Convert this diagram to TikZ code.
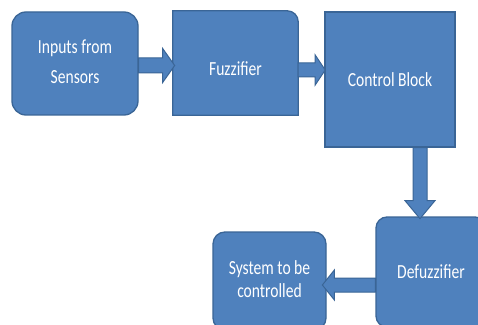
\documentclass[tikz,border=0pt]{standalone}
\usepackage{fontspec}
\setmainfont{Carlito}
\usetikzlibrary{calc}
\definecolor{boxfill}{HTML}{4F81BD}
\definecolor{boxline}{HTML}{3A6596}
\newcommand\blockarr[6]{% start, angle, length, shaft half, head half, head length
  \begin{scope}[shift={(#1)}, rotate=#2]
    \draw[arrowbody] (0,-#4) -- (#3-#6,-#4) -- (#3-#6,-#5) -- (#3,0) -- (#3-#6,#5) -- (#3-#6,#4) -- (0,#4) -- cycle;
  \end{scope}}
\newcommand\lbl[1]{\scalebox{0.78}[1]{#1}}
\begin{document}
\begin{tikzpicture}[x=1pt,y=1pt,
  blk/.style={fill=boxfill, draw=boxline, line width=1.3pt, text=white, font=\fontsize{20}{24}\selectfont, inner sep=0pt, align=center},
  arrowbody/.style={fill=boxfill, draw=boxline, line width=1pt, line join=miter}]
\useasboundingbox (0,0) rectangle (478,324);
\fill[white] (0,0) rectangle (478,324);
% boxes
\node[blk, rounded corners=14pt, minimum width=126pt, minimum height=103pt] (in) at (75,260.5)
  {\raisebox{-4pt}{\lbl{\begin{tabular}{@{}c@{}}Inputs from\\[6pt]Sensors\end{tabular}}}};
\node[inner sep=0pt, minimum width=125pt, minimum height=104pt] (fz) at (235.5,261) {};
\draw[blk] (fz.south west) -- (fz.north west) -- ([xshift=-11pt]fz.north east)
  arc[start angle=90, end angle=0, radius=11pt] -- (fz.south east) -- cycle;
\node[text=white, font=\fontsize{20}{24}\selectfont] at ([yshift=-6pt]fz.center) {\lbl{Fuzzifier}};
\node[blk, minimum width=130pt, minimum height=135pt] (cb) at (390,244.5) {\lbl{Control Block}};
\node[blk, rounded corners=11pt, minimum width=110pt, minimum height=110pt] (df) at (431,52) {\lbl{Defuzzifier}};
\node[blk, rounded corners=12pt, minimum width=113pt, minimum height=98pt] (sy) at (269.5,43)
  {\lbl{\begin{tabular}{@{}c@{}}System to be\\[-1pt]controlled\end{tabular}}};
% arrows
\blockarr{$(in.east)+(0,-2)$}{0}{36}{7.5}{17}{12}
\blockarr{$(fz.east)+(0,-7)$}{0}{27}{7}{15}{10}
\blockarr{$(cb.south)+(30,0)$}{-90}{71}{7}{15}{18}
\blockarr{$(df.west)+(0,-13)$}{180}{53}{7}{15}{12}
\end{tikzpicture}
\end{document}
